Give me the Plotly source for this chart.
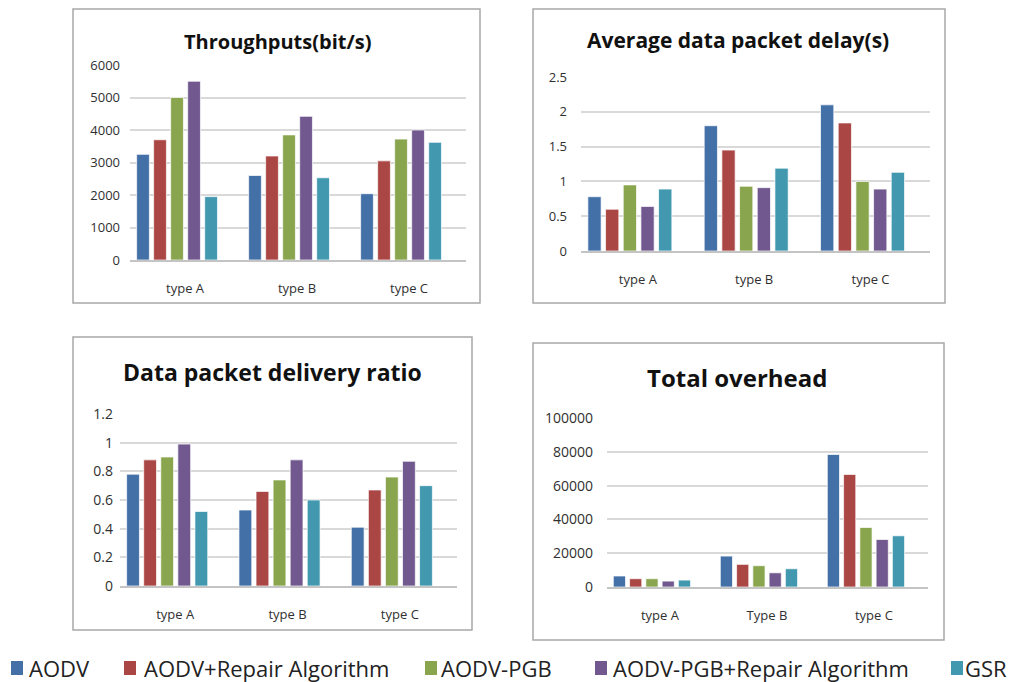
import plotly.graph_objects as go

W, H = 1016, 682
OFF = 8  # page body margin that shifts the figure in the browser

series = ["AODV", "AODV+Repair Algorithm", "AODV-PGB", "AODV-PGB+Repair Algorithm", "GSR"]
colors = ["#4470A8", "#AA4644", "#89A54E", "#71588F", "#4198AF"]

cats_abc = ["type A", "type B", "type C"]
cats_overhead = ["type A", "Type B", "type C"]

# values: one list per series, ordered type A, B, C
throughput = {
    "AODV": [3250, 2600, 2040],
    "AODV+Repair Algorithm": [3700, 3200, 3050],
    "AODV-PGB": [5000, 3850, 3720],
    "AODV-PGB+Repair Algorithm": [5500, 4420, 4000],
    "GSR": [1950, 2530, 3620],
}
delay = {
    "AODV": [0.78, 1.80, 2.10],
    "AODV+Repair Algorithm": [0.60, 1.45, 1.84],
    "AODV-PGB": [0.95, 0.93, 1.00],
    "AODV-PGB+Repair Algorithm": [0.64, 0.91, 0.89],
    "GSR": [0.89, 1.19, 1.13],
}
delivery = {
    "AODV": [0.78, 0.53, 0.41],
    "AODV+Repair Algorithm": [0.88, 0.66, 0.67],
    "AODV-PGB": [0.90, 0.74, 0.76],
    "AODV-PGB+Repair Algorithm": [0.99, 0.88, 0.87],
    "GSR": [0.52, 0.60, 0.70],
}
overhead = {
    "AODV": [6500, 18300, 78400],
    "AODV+Repair Algorithm": [4900, 13400, 66600],
    "AODV-PGB": [4900, 12600, 35200],
    "AODV-PGB+Repair Algorithm": [3500, 8400, 28100],
    "GSR": [4100, 10800, 30300],
}

titles = ["Throughputs(bit/s)", "Average data packet delay(s)", "Data packet delivery ratio", "Total overhead"]
yticks = [
    [0, 1000, 2000, 3000, 4000, 5000, 6000],
    [0, 0.5, 1, 1.5, 2, 2.5],
    [0, 0.2, 0.4, 0.6, 0.8, 1, 1.2],
    [0, 20000, 40000, 60000, 80000, 100000],
]
ytick_text = [
    ["0", "1000", "2000", "3000", "4000", "5000", "6000"],
    ["0", "0.5", "1", "1.5", "2", "2.5"],
    ["0", "0.2", "0.4", "0.6", "0.8", "1", "1.2"],
    ["0", "20000", "40000", "60000", "80000", "100000"],
]


def px_x(p):
    return (p - OFF) / W


def px_y(p):
    return 1 - (p - OFF) / H


panels = [
    dict(data=throughput, cats=cats_abc, area=(130, 466, 65, 260), box=(73, 480, 9, 303),
         title_xy=(277, 42), title_size=20, tick_size=13, cat_size=13, ystand=9),
    dict(data=delay, cats=cats_abc, area=(581, 930, 77, 251), box=(533, 945, 9, 303),
         title_xy=(738, 40), title_size=21, tick_size=13, cat_size=13, ystand=13),
    dict(data=delivery, cats=cats_abc, area=(120, 457, 414, 586), box=(73, 472, 337, 630),
         title_xy=(272, 372), title_size=23, tick_size=14, cat_size=13, ystand=6),
    dict(data=overhead, cats=cats_overhead, area=(607, 928, 418, 587), box=(533, 944, 343, 640),
         title_xy=(737, 377), title_size=24, tick_size=14, cat_size=13, ystand=13),
]

fig = go.Figure()
shapes = []
annotations = []

for i, p in enumerate(panels):
    suffix = "" if i == 0 else str(i + 1)
    xa, ya = "x" + suffix, "y" + suffix
    for s, c in zip(series, colors):
        fig.add_trace(go.Bar(
            x=p["cats"], y=p["data"][s], name=s, xaxis=xa, yaxis=ya,
            marker=dict(color=c, line=dict(color="rgba(255,255,255,0.7)", width=1)),
            showlegend=False, legendgroup=s,
        ))
    x0, x1, yt, yb = p["area"]
    fig.layout["xaxis" + suffix] = dict(
        domain=[px_x(x0), px_x(x1)], anchor=ya, showgrid=False,
        range=[-0.42, 2.58],
        showline=True, linecolor="#c4c4c4", linewidth=2,
        ticks="", ticklabelstandoff=15, ticklabelshift=8,
        tickfont=dict(family="Open Sans", size=p["cat_size"], color="#303030"),
        fixedrange=True,
    )
    fig.layout["yaxis" + suffix] = dict(
        domain=[px_y(yb), px_y(yt)], anchor=xa, range=[0, yticks[i][-1]],
        tickvals=yticks[i], ticktext=ytick_text[i], showgrid=True,
        gridcolor="#d9d9d9", gridwidth=1.5, zeroline=False, showline=False,
        ticks="", ticklabelstandoff=p["ystand"],
        tickfont=dict(family="Open Sans", size=p["tick_size"], color="#303030"),
        fixedrange=True,
    )
    bx0, bx1, by0, by1 = p["box"]
    shapes.append(dict(type="rect", xref="paper", yref="paper",
                       x0=px_x(bx0), x1=px_x(bx1), y0=px_y(by1), y1=px_y(by0),
                       line=dict(color="#a8a8a8", width=1.5), layer="below"))
    tx, ty = p["title_xy"]
    annotations.append(dict(text="<b>" + titles[i] + "</b>", xref="paper", yref="paper",
                            x=px_x(tx), y=px_y(ty), showarrow=False, xanchor="center", yanchor="middle",
                            font=dict(family="Open Sans", size=p["title_size"], color="#111111")))

# legend row along the bottom (key square left edge, text left edge), in page pixels
legend_pos = [(11, 28), (124, 143), (425, 440), (595, 612), (951, 964)]
legend_y = 668
for s, c, (sx, tx) in zip(series, colors, legend_pos):
    shapes.append(dict(type="rect", xref="paper", yref="paper",
                       x0=px_x(sx), x1=px_x(sx + 12), y0=px_y(legend_y + 7), y1=px_y(legend_y - 7),
                       fillcolor=c, line=dict(width=0)))
    annotations.append(dict(text=s, xref="paper", yref="paper", x=px_x(tx), y=px_y(legend_y),
                            xanchor="left", yanchor="middle", showarrow=False, xshift=-1,
                            font=dict(family="Open Sans", size=22, color="#222222")))

fig.update_layout(
    width=W, height=H, margin=dict(l=0, r=0, t=0, b=0, autoexpand=False),
    paper_bgcolor="white", plot_bgcolor="white",
    barmode="group", bargap=0.24, bargroupgap=0.25,
    shapes=shapes, annotations=annotations,
    showlegend=False,
)

fig.write_html("out.html")
